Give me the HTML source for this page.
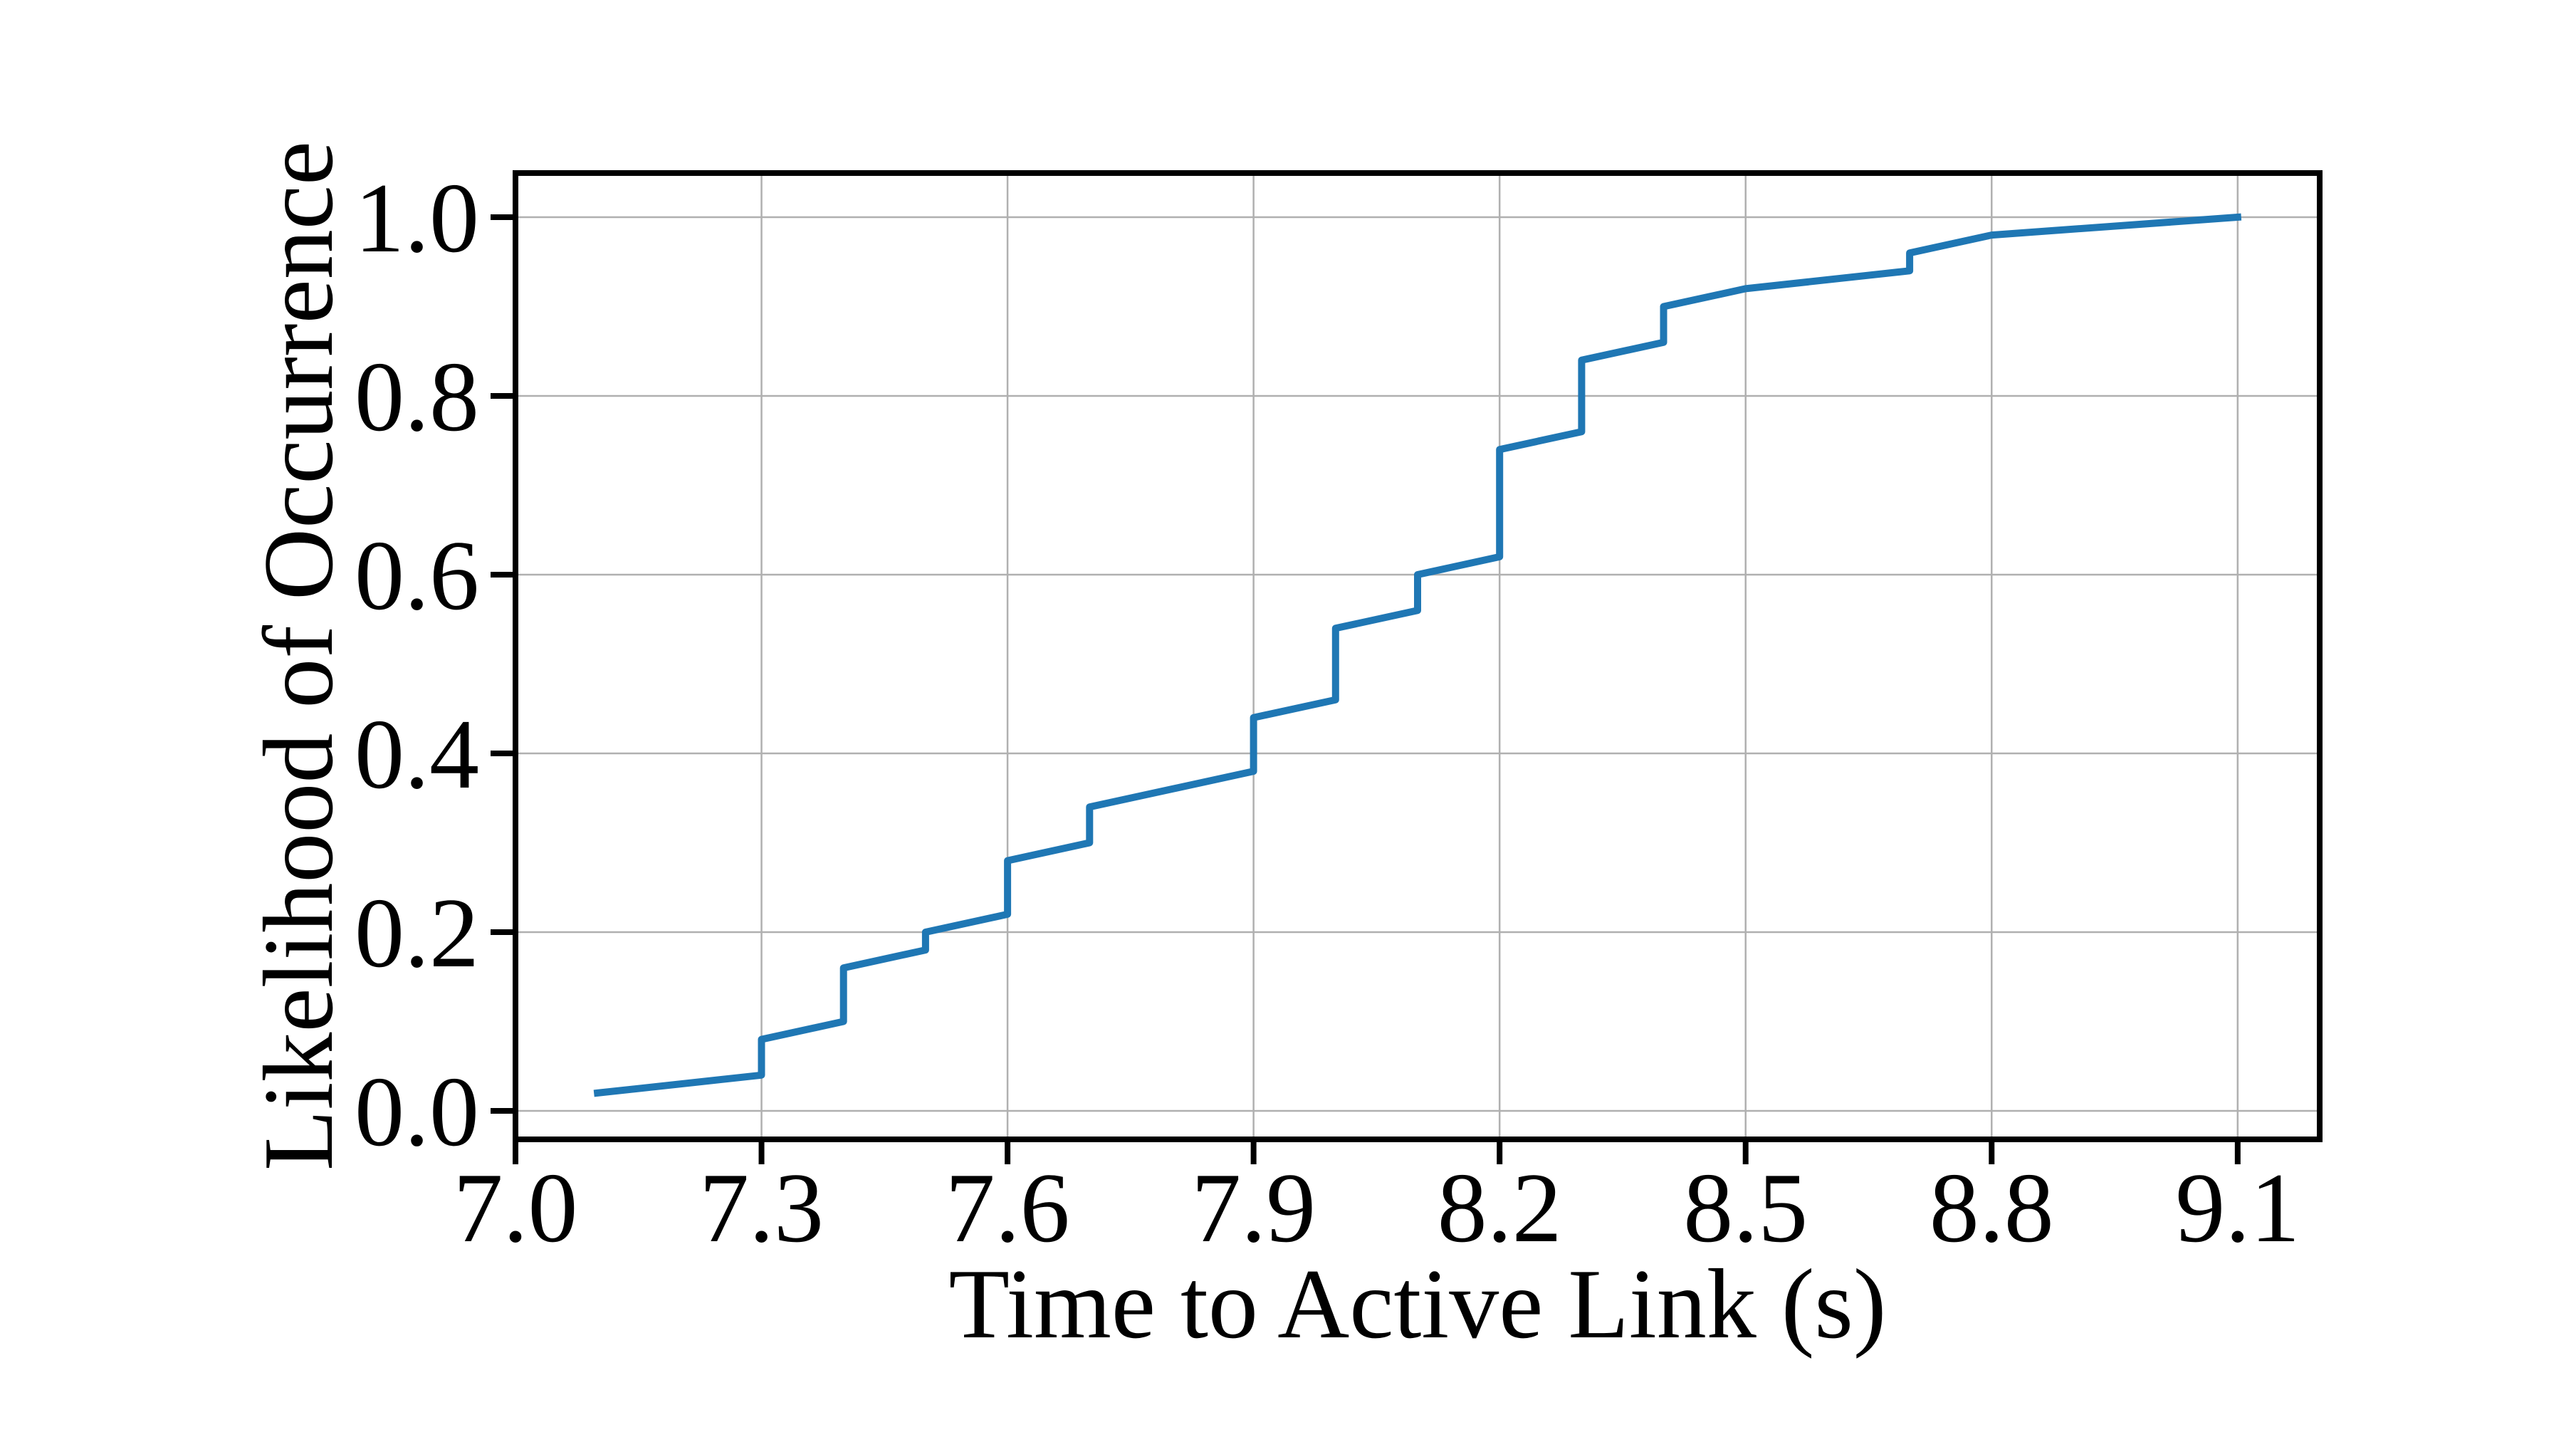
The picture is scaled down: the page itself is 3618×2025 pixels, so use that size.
<!DOCTYPE html>
<html><head><meta charset="utf-8"><style>
html,body{margin:0;padding:0;background:#fff;}
svg{display:block;font-family:"Liberation Serif","DejaVu Serif",serif;}
</style></head><body>
<svg id="chart" width="3618" height="2025" viewBox="0 0 3618 2025" xmlns="http://www.w3.org/2000/svg">
<rect width="3618" height="2025" fill="#fff"/>
<g id="grid"></g>
<g id="series"></g>
<rect x="724" y="243" width="2534" height="1357" fill="none" stroke="#000" stroke-width="8"/>
<g id="ticks"></g>
<text x="1991" y="1878" font-size="140" text-anchor="middle">Time to Active Link (s)</text>
<text transform="translate(466,921) rotate(-90)" x="0" y="0" font-size="140" text-anchor="middle">Likelihood of Occurrence</text>
</svg>
<script>
const xTicks = [7.0, 7.3, 7.6, 7.9, 8.2, 8.5, 8.8, 9.1];
const xTickLabels = ["7.0","7.3","7.6","7.9","8.2","8.5","8.8","9.1"];
const yTicks = [0.0, 0.2, 0.4, 0.6, 0.8, 1.0];
const yTickLabels = ["0.0","0.2","0.4","0.6","0.8","1.0"];
const timeValues = [7.1,7.3,7.3,7.4,7.4,7.5,7.5,7.6,7.6,7.7,7.7,7.9,7.9,8.0,8.0,8.1,8.1,8.2,8.2,8.3,8.3,8.4,8.4,8.5,8.7,8.7,8.8,9.1];
const likelihoodValues = [0.02,0.04,0.08,0.10,0.16,0.18,0.20,0.22,0.28,0.30,0.34,0.38,0.44,0.46,0.54,0.56,0.60,0.62,0.74,0.76,0.84,0.86,0.90,0.92,0.94,0.96,0.98,1.00];

const NS = "http://www.w3.org/2000/svg";
const L = 724, R = 3258, T = 243, B = 1600;
const xMin = 7.0, xMax = 9.2, yMin = -0.0319, yMax = 1.0494;
function xs(v){ return L + (v - xMin) / (xMax - xMin) * (R - L); }
function ys(v){ return B - (v - yMin) / (yMax - yMin) * (B - T); }
function mk(tag, attrs, parent){ const e = document.createElementNS(NS, tag); for (const k in attrs) e.setAttribute(k, attrs[k]); parent.appendChild(e); return e; }

const grid = document.getElementById('grid');
const ticks = document.getElementById('ticks');
xTicks.forEach((v, i) => {
  const x = xs(v);
  const g = mk('line', {x1:x, x2:x, y1:T, y2:B, stroke:'#b0b0b0', 'stroke-width':2.5}, grid);
  
  
  const t = mk('line', {x1:x, x2:x, y1:B, y2:B+35, stroke:'#000', 'stroke-width':8}, ticks);
  
  
  const lb = mk('text', {x:x, y:1743, 'font-size':140, 'text-anchor':'middle'}, ticks);
  lb.textContent = xTickLabels[i];
  
  
});
yTicks.forEach((v, i) => {
  const y = ys(v);
  const g = mk('line', {x1:L, x2:R, y1:y, y2:y, stroke:'#b0b0b0', 'stroke-width':2.5}, grid);
  
  
  const t = mk('line', {x1:L-35, x2:L, y1:y, y2:y, stroke:'#000', 'stroke-width':8}, ticks);
  
  
  const lb = mk('text', {x:673, y:y+48, 'font-size':140, 'text-anchor':'end'}, ticks);
  lb.textContent = yTickLabels[i];
  
  
});
const pts = timeValues.map((v, i) => xs(v).toFixed(1) + ',' + ys(likelihoodValues[i]).toFixed(1)).join(' ');
const line = mk('polyline', {points:pts, fill:'none', stroke:'#1f77b4', 'stroke-width':10, 'stroke-linejoin':'round', 'stroke-linecap':'square'}, document.getElementById('series'));


</script>
</body></html>
